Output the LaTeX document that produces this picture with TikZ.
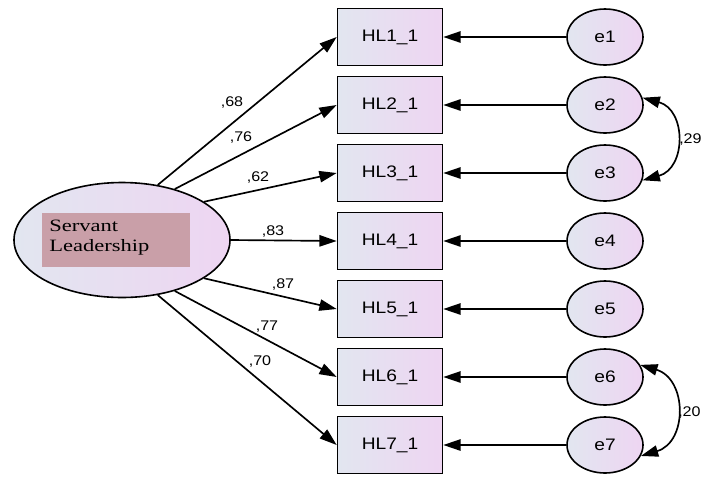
\documentclass[tikz,border=0pt]{standalone}
\usepackage{fontspec}
\setmainfont{Liberation Sans}
\newfontfamily\widesans[FakeStretch=1.15]{Liberation Sans}
\newfontfamily\wideserif[FakeStretch=1.3]{Liberation Serif}
\usetikzlibrary{arrows.meta,shapes.geometric}
\definecolor{fillL}{RGB}{226,230,240}
\definecolor{fillR}{RGB}{238,213,242}
\definecolor{tagfill}{RGB}{201,159,168}
\begin{document}
\begin{tikzpicture}[x=0.75pt,y=-0.75pt,
  obsbox/.style={draw=black, line width=1.2pt, rectangle, inner sep=0pt,
    minimum width=78.75pt, minimum height=42.75pt, left color=fillL, right color=fillR,
    font=\widesans\fontsize{12.5pt}{14pt}\selectfont},
  errnode/.style={draw=black, line width=1.2pt, ellipse, inner sep=0pt,
    minimum width=57pt, minimum height=42pt, left color=fillL, right color=fillR,
    font=\widesans\fontsize{12.5pt}{14pt}\selectfont},
  latent/.style={draw=black, line width=1.2pt, ellipse, inner sep=0pt,
    minimum width=162pt, minimum height=86.25pt, left color=fillL, right color=fillR},
  arr/.style={line width=1.25pt, -{Triangle[length=13pt,width=8.5pt]}},
  dblarr/.style={line width=1.25pt, {Triangle[length=13pt,width=8.5pt]}-{Triangle[length=13pt,width=8.5pt]}},
  coef/.style={font=\widesans\fontsize{10.5pt}{12pt}\selectfont, inner sep=0pt}
]
\useasboundingbox (0,0) rectangle (701,476);

% latent variable
\node[latent] (SL) at (122,240) {};
\node[fill=tagfill, minimum width=111pt, minimum height=40.5pt, inner sep=0pt] (tag) at (116,240) {};
\node[anchor=north west, align=left, inner sep=0pt,
  font=\wideserif\fontsize{13pt}{14.5pt}\selectfont] (tagtext) at (49,220) {Servant\\Leadership};

% observed variables and errors
\foreach \i/\y in {1/37,2/105,3/173,4/241,5/309,6/377,7/445}{
  \node[obsbox] (HL\i) at (390,\y) {HL\i\_1};
  \node[errnode] (e\i) at (605,\y) {e\i};
  \draw[arr] (e\i.west) -- (HL\i.east);
}

% loadings
\foreach \i/\a in {1/57,2/44,3/25,4/0,5/-25,6/-44,7/-57}{
  \draw[arr] (SL.\a) -- (HL\i.west);
}

% loading labels
\node[coef] (l1) at (232,103) {,68};
\node[coef] (l2) at (241,138) {,76};
\node[coef] (l3) at (258,178) {,62};
\node[coef] (l4) at (273,232) {,83};
\node[coef] (l5) at (283,285) {,87};
\node[coef] (l6) at (267,327) {,77};
\node[coef] (l7) at (260,362) {,70};

% covariances
\draw[dblarr] (e2.11) .. controls +(44,12) and +(44,-12) .. (e3.-11);
\draw[dblarr] (e6.19) .. controls +(47,14) and +(47,-14) .. (e7.-17);
\node[coef, anchor=west] (c23) at (679,140) {,29};
\node[coef, anchor=west] (c67) at (678,412) {,20};
\end{tikzpicture}
\end{document}
